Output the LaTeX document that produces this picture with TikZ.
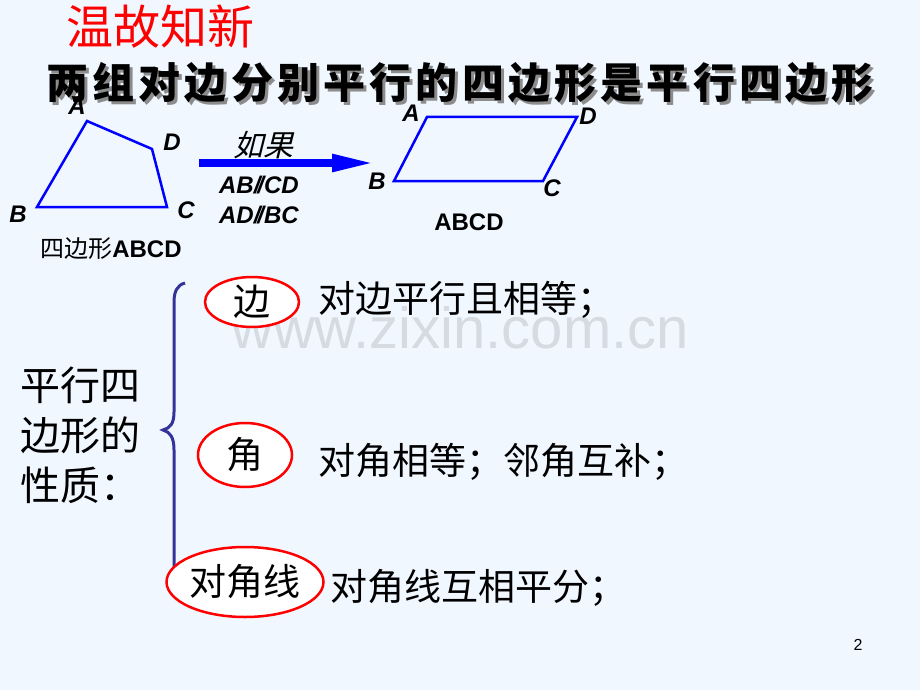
\documentclass[tikz,border=0pt]{standalone}
\usepackage{fontspec}
\setmainfont{Liberation Sans}
\newfontfamily\cjk{Noto Sans CJK SC}
\newfontfamily\cjkwide{Noto Sans CJK SC}[LetterSpace=10]
\newfontfamily\cjkslant{Noto Sans CJK SC}[FakeSlant=0.25]
\usetikzlibrary{shapes.geometric,arrows.meta}
\definecolor{bgblue}{HTML}{F0F7FF}
\definecolor{bracecol}{HTML}{333399}
\definecolor{markgray}{HTML}{D6DBE2}

\tikzstyle{vertex}=[font=\bfseries\itshape\fontsize{24}{26}\selectfont,inner sep=0pt]
\tikzstyle{edge}=[draw=blue,line width=2.5pt,line join=miter]
\tikzstyle{keyword}=[ellipse,draw=red,fill=white,line width=2.5pt,inner sep=0pt,font=\cjk\fontsize{37}{40}\selectfont]
\tikzstyle{property}=[anchor=west,inner sep=0pt,font=\cjk\fontsize{37}{40}\selectfont]

\begin{document}
\begin{tikzpicture}[x=1pt,y=-1pt,>=latex]
	\fill[bgblue] (0,0) rectangle (920,690);
	\useasboundingbox (0,0) rectangle (920,690);

	% watermark
	\node[text=markgray,font=\fontsize{58}{60}\selectfont] (mark) at (460,328) {www.zixin.com.cn};

	% Title
	\node[text=red,font=\cjk\fontsize{47}{50}\selectfont] (title) at (160,27) {温故知新};
	\node[text=black!45,font=\cjkwide\bfseries\fontsize{42}{44}\selectfont] (ruleshadow) at (463,86) {两组对边分别平行的四边形是平行四边形};
	\node[font=\cjkwide\bfseries\fontsize{42}{44}\selectfont] (rule) at (460,83) {两组对边分别平行的四边形是平行四边形};

	% Quadrilateral
	\coordinate (qA) at (87,121);
	\coordinate (qD) at (152,149);
	\coordinate (qC) at (167,207);
	\coordinate (qB) at (37,207);
	\draw[edge] (qA) -- (qD) -- (qC) -- (qB) -- cycle;
	\node[vertex] (lqA) at (77,106) {A};
	\node[vertex] (lqD) at (172,142) {D};
	\node[vertex] (lqC) at (186,210) {C};
	\node[vertex] (lqB) at (18,214) {B};
	\node[inner sep=0pt,font=\fontsize{24}{26}\selectfont] (qname) at (111,249) {{\cjk 四边形}\textbf{ABCD}};

	% Arrow
	\coordinate (arrowstart) at (199,163);
	\coordinate (arrowend) at (376,163);
	\draw[blue,line width=8pt,-{Triangle[length=44pt,width=16pt]}] (arrowstart) -- (arrowend);
	\node[font=\cjkslant\fontsize{30}{32}\selectfont] (cond) at (263,145) {如果};
	\node[vertex] (cond1) at (259,185) {AB/\kern-3pt/CD};
	\node[vertex] (cond2) at (259,215) {AD/\kern-3pt/BC};

	% Parallelogram
	\coordinate (pA) at (427,117);
	\coordinate (pD) at (577,117);
	\coordinate (pC) at (543,181);
	\coordinate (pB) at (394,181);
	\draw[edge] (pA) -- (pD) -- (pC) -- (pB) -- cycle;
	\node[vertex] (lpA) at (411,113) {A};
	\node[vertex] (lpD) at (588,116) {D};
	\node[vertex] (lpC) at (552,188) {C};
	\node[vertex] (lpB) at (377,181) {B};
	\node[inner sep=0pt,font=\bfseries\fontsize{24}{26}\selectfont] (pname) at (469,222) {ABCD};

	% Properties
	\node[anchor=west,inner sep=0pt,align=left,font=\cjk\fontsize{40}{50}\selectfont] (props) at (20,435) {平行四\\边形的\\性质：};
	\draw[bracecol,line width=3pt] (185,283) .. controls (177,285) and (174,292) .. (174,302)
		-- (174,412) .. controls (174,424) and (170,428) .. (163,430)
		.. controls (170,432) and (174,437) .. (174,450)
		-- (174,580) .. controls (174,591) and (178,597) .. (186,598);

	\node[keyword,minimum width=94pt,minimum height=50pt] (side) at (252,302) {边};
	\node[keyword,minimum width=94pt,minimum height=64pt] (angle) at (245,455) {角};
	\node[keyword,minimum width=120pt,minimum height=70pt] (diag) at (245,582) {对角线};

	\node[property] (sidetext) at (318,300) {对边平行且相等；};
	\node[property] (angletext) at (318,462) {对角相等；邻角互补；};
	\node[property] (diagtext) at (330,588) {对角线互相平分；};

	% page number
	\node[font=\fontsize{16}{18}\selectfont] (page) at (858,645) {2};
\end{tikzpicture}
\end{document}
